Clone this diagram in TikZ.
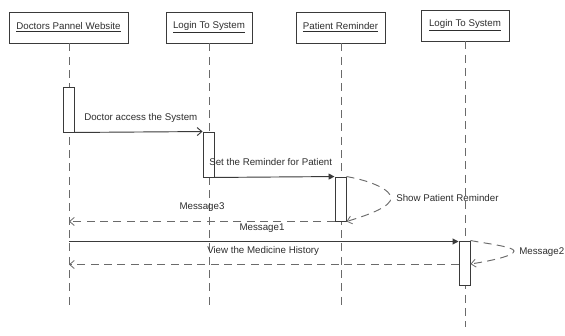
\documentclass[tikz,border=0pt]{standalone}
\usepackage{fontspec}
\setmainfont{Liberation Sans}
\usetikzlibrary{arrows.meta}
\definecolor{ln}{HTML}{3A3A3A}
\definecolor{dl}{HTML}{6A6A6A}
\definecolor{tx}{HTML}{2E2E2E}
\begin{document}
\begin{tikzpicture}[x=0.75pt,y=-0.75pt,
  font=\fontsize{7.3}{8.5}\selectfont,
  objbox/.style={draw=ln,line width=0.7pt,fill=white,inner sep=0pt,text=tx},
  actbox/.style={draw=ln,line width=0.7pt,fill=white,inner sep=0pt,minimum width=8.25pt},
  life/.style={draw=dl,line width=0.7pt,dash pattern=on 6pt off 4pt},
  call/.style={draw=ln,line width=0.7pt,-{Triangle[length=4.5pt,width=4.5pt]}},
  opencall/.style={draw=ln,line width=0.7pt,-{Straight Barb[length=3.5pt,width=6pt]}},
  ret/.style={draw=dl,line width=0.7pt,dash pattern=on 6pt off 4pt,-{Straight Barb[length=3.5pt,width=6pt,line width=0.6pt]}},
  lbl/.style={text=tx,inner sep=0pt}]
\useasboundingbox[fill=white] (0,0) rectangle (565,336);
% object boxes
\node[objbox,minimum width=89.25pt,minimum height=23.25pt] (o1) at (68.5,27.5) {\underline{Doctors Pannel Website}};
\node[objbox,minimum width=64.5pt,minimum height=23.25pt] (o2) at (209,27.5) {\underline{Login To System}};
\node[objbox,minimum width=66.75pt,minimum height=23.25pt] (o3) at (340.5,27.5) {\underline{Patient Reminder}};
\node[objbox,minimum width=66pt,minimum height=23.25pt] (o4) at (465,25.5) {\underline{Login To System}};
% lifeline ends
\coordinate (e1) at (69,310);
\coordinate (e2) at (209,310);
\coordinate (e3) at (341,310);
\coordinate (e4) at (465,327);
\draw[life] (o1.south -| e1) -- (e1);
\draw[life] (o2.south -| e2) -- (e2);
\draw[life] (o3.south -| e3) -- (e3);
\draw[life] (o4.south -| e4) -- (e4);
% activations
\node[actbox,minimum height=33.75pt] (a1) at (68.5,109.5) {};
\node[actbox,minimum height=33.75pt] (a2) at (208.5,154.5) {};
\node[actbox,minimum height=33pt] (a3) at (340.5,199) {};
\node[actbox,minimum height=33pt] (a4) at (464.5,263) {};
% messages
\draw[opencall] (a1.south east) -- (a2.north west);
\node[lbl,anchor=west] (t1) at (84,118) {Doctor access the System};
\draw[call] (a2.south east) -- (a3.north west);
\node[lbl,anchor=west] (t2) at (209,162) {Set the Reminder for Patient};
\draw[ret] (a3.north east) .. controls (372,181) and (391,190) .. (391,198)
  .. controls (391,206) and (372,214) .. (a3.south east);
\node[lbl,anchor=west] (t3) at (396,198) {Show Patient Reminder};
\draw[ret] (a3.south west) -- (a3.south west -| e1);
\node[lbl] (t4) at (202,207) {Message3};
\coordinate (m1s) at (69,241.5);
\draw[call] (m1s) -- (m1s -| a4.west);
\node[lbl] (t5) at (262,228) {Message1};
\node[lbl,anchor=west] (t6) at (207,251) {View the Medicine History};
\draw[ret] (a4.north east) .. controls (490,244) and (514,247) .. (514,251)
  .. controls (514,256) and (490,261) .. (a4.east |- 0,264);
\node[lbl,anchor=west] (t7) at (519,252) {Message2};
\draw[ret] (a4.west |- 0,264.5) -- (69,264.5);
\end{tikzpicture}
\end{document}
